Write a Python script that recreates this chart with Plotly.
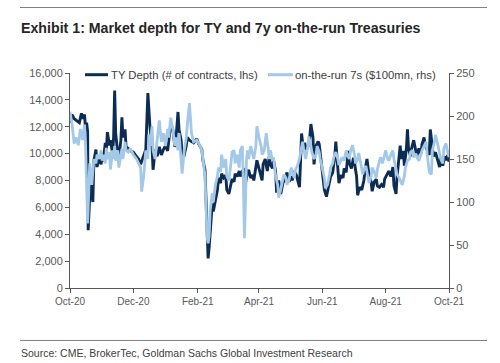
import pandas as pd
import plotly.graph_objects as go

BASE_DATE = "2020-10-01"

# TY Depth (# of contracts, lhs): day offset from base date, value
ty_days = [0, 2, 4, 6, 9, 11, 12, 14, 15, 16, 17, 17.5, 19.5, 21, 22, 23, 25, 26, 28, 30, 31, 32, 34, 35, 36, 38, 39, 41, 42, 43, 44, 46, 47, 49, 50, 51, 53, 54, 56, 58, 61, 64, 66, 68, 71, 73, 75, 76, 77, 79, 80, 82, 84, 86, 88, 90, 92, 94, 95, 97, 99, 101, 102, 104, 105, 107, 108, 110, 112, 113, 115, 117, 119, 122, 124, 127, 128, 130, 131, 132, 133, 134, 136, 137, 138, 140, 142, 143, 145, 146, 148, 150, 151, 153, 155, 156, 158, 159, 161, 163, 164, 166, 168, 169, 171, 172, 174,
           176, 177, 179, 180, 183, 185, 186, 188, 190, 192, 193, 195, 196, 198, 199, 201, 203, 205, 207, 209, 211, 213, 214, 216, 218, 221, 222, 223, 225, 226, 228, 230, 231, 232, 234, 235, 237, 239, 240, 242, 244, 245, 247, 249, 251, 253, 255, 256, 258, 259, 261, 263, 264, 266, 268, 269, 271, 273, 274, 276, 277, 279, 281, 283, 284, 286, 288, 290, 291, 293, 295, 296, 298, 300, 302, 303, 305, 307, 309, 311, 312, 314, 315, 316, 318, 319, 321, 322, 324, 325, 326, 328, 329, 331, 333, 334, 336, 338, 339, 341, 342, 344, 346, 347, 349, 350, 352, 354, 356, 357, 359, 361, 362, 364, 365]
ty_depth = [12300, 12900, 12600, 12500, 12300, 13000, 12600, 12900, 11800, 12300, 11600, 4300, 7700, 7000, 6400, 9500, 10300, 9000, 9700, 9200, 10100, 9400, 10800, 10200, 11600, 10600, 11000, 10000, 11200, 14700, 11500, 10000, 9600, 11000, 12700, 11200, 11800, 10500, 10400, 10200, 10100, 9800, 9600, 9200, 9800, 10300, 14500, 13000, 12000, 10500, 8800, 10300, 9800, 10500, 9900, 10300, 10600, 10200, 10800, 12200, 11800, 10500, 11000, 13100, 11800, 11000, 10000, 9900, 10600, 11200, 11000, 10900, 10800, 11100, 10700, 10300, 9500, 8800, 6000, 3000, 2200, 3000, 5600, 6300, 5700, 6500, 7300, 8200, 7800, 8500, 8200, 8400, 7300, 7000, 7600, 8100, 7900, 8500, 8300, 8700, 8300, 8700, 8800, 7800, 8600, 8800, 8200,
            8400, 8000, 8900, 9500, 8600, 8000, 9200, 9600, 8700, 9800, 9200, 8900, 9500, 8700, 7100, 8000, 7000, 7800, 8100, 8600, 7900, 8300, 8000, 8700, 8400, 7500, 9400, 11500, 10200, 10800, 10300, 10700, 11300, 12200, 11200, 9200, 10600, 10900, 10700, 9400, 8100, 7300, 6800, 7500, 8300, 8600, 9800, 10900, 9200, 7800, 8400, 8200, 8900, 8600, 10200, 9300, 8900, 9700, 9300, 8300, 6900, 7500, 7300, 8000, 8700, 9600, 8400, 7900, 7200, 7900, 8100, 7600, 7500, 7700, 7500, 8100, 8400, 8700, 8300, 9000, 7600, 7000, 8300, 9200, 10600, 9600, 10200, 9100, 10400, 11800, 10400, 9800, 10400, 11000, 10200, 9800, 10400, 10000, 10700, 11200, 10600, 10300, 9900, 11800, 10200, 9800, 10100, 9500, 9000, 9700, 9100, 9800, 9500, 9900, 9400]

# on-the-run 7s ($100mn, rhs): day offset from base date, value
otr_days = [0, 2, 4, 6, 8, 10, 12, 14, 15, 16, 17, 18, 19, 20, 21, 22, 23, 25, 26, 28, 30, 31, 32, 34, 35, 36, 38, 39, 41, 42, 43, 44, 46, 47, 49, 50, 51, 53, 54, 56, 58, 61, 64, 66, 68, 69, 71, 73, 75, 76, 77, 79, 80, 82, 84, 86, 88, 90, 92, 94, 95, 97, 99, 101, 102, 104, 105, 107, 108, 110, 112, 113, 115, 117, 119, 122, 124, 127, 128, 130, 131, 132, 133, 134, 135, 136, 137, 138, 140, 142, 143, 145, 146, 148, 150, 151, 153, 155, 156, 158, 159, 161, 163, 164, 166, 167, 168, 169, 170, 171, 172, 174,
            177, 179, 180, 182, 184, 185, 187, 189, 192, 193, 195, 196, 198, 200, 201, 203, 204, 206, 208, 209, 211, 213, 214, 216, 217, 219, 221, 222, 224, 225, 227, 229, 230, 232, 233, 235, 237, 238, 240, 241, 243, 245, 246, 248, 250, 251, 253, 254, 256, 258, 259, 261, 262, 264, 266, 267, 269, 270, 272, 274, 275, 277, 278, 280, 282, 283, 285, 286, 288, 290, 291, 293, 295, 296, 298, 299, 301, 303, 304, 306, 307, 309, 311, 312, 314, 315, 317, 319, 320, 322, 323, 325, 327, 328, 330, 331, 333, 335, 336, 338, 339, 341, 343, 344, 346, 348, 349, 351, 352, 354, 356, 357, 359, 360, 362, 364, 365]
otr_depth = [205, 190, 168, 175, 166, 185, 172, 190, 165, 125, 75, 110, 145, 130, 120, 135, 150, 145, 155, 150, 160, 148, 155, 145, 163, 150, 158, 138, 160, 150, 165, 148, 160, 140, 155, 162, 150, 170, 160, 158, 162, 155, 150, 145, 140, 112, 130, 160, 150, 178, 165, 188, 160, 150, 170, 195, 170, 180, 165, 185, 175, 198, 185, 165, 175, 160, 180, 150, 133, 160, 175, 190, 215, 180, 170, 172, 168, 160, 148, 130, 95, 60, 52, 60, 90, 100, 110, 100, 120, 130, 140, 135, 155, 140, 150, 130, 125, 145, 158, 160, 145, 155, 140, 160, 165, 120, 58, 100, 150, 160, 150, 165,
             150, 165, 188, 175, 165, 155, 160, 180, 150, 160, 148, 152, 130, 120, 105, 115, 120, 132, 128, 120, 126, 140, 135, 128, 137, 142, 150, 158, 170, 162, 150, 165, 176, 165, 158, 150, 155, 165, 158, 150, 140, 128, 116, 120, 132, 140, 145, 152, 158, 150, 143, 148, 152, 148, 160, 155, 150, 158, 166, 155, 145, 150, 157, 145, 132, 138, 142, 135, 122, 130, 140, 135, 128, 138, 150, 152, 145, 155, 160, 150, 148, 155, 160, 150, 140, 132, 128, 122, 120, 130, 140, 148, 150, 158, 160, 152, 156, 150, 148, 155, 160, 165, 170, 155, 135, 132, 160, 170, 178, 168, 158, 150, 145, 162, 168, 155, 152]

# axis ticks
lhs_ticks = [0, 2000, 4000, 6000, 8000, 10000, 12000, 14000, 16000]
rhs_ticks = [0, 50, 100, 150, 200, 250]

TITLE = "Exhibit 1: Market depth for TY and 7y on-the-run Treasuries"
SOURCE = "Source: CME, BrokerTec, Goldman Sachs Global Investment Research"
TY_NAME = "TY Depth (# of contracts, lhs)"
OTR_NAME = "on-the-run 7s ($100mn, rhs)"

DARK = "#0d2c54"
LIGHT = "#a4c8e8"
AXIS = "#595959"
TEXT = "#595959"

base = pd.Timestamp(BASE_DATE)
ty_x = [base + pd.Timedelta(days=d) for d in ty_days]
otr_x = [base + pd.Timedelta(days=d) for d in otr_days]

W, H = 500, 363
L, R, T, B = 70, 449, 73.3, 287.7


def px(x):
    return (x - L) / (R - L)


def py(y):
    return (B - y) / (B - T)


fig = go.Figure()
fig.add_trace(go.Scatter(x=ty_x, y=ty_depth, mode="lines", name=TY_NAME,
                         line=dict(color=DARK, width=2.9), yaxis="y"))
fig.add_trace(go.Scatter(x=otr_x, y=otr_depth, mode="lines", name=OTR_NAME,
                         line=dict(color=LIGHT, width=2.8), yaxis="y2"))

fig.update_layout(
    width=W, height=H,
    margin=dict(l=L, r=W - R, t=T, b=H - B, pad=0),
    paper_bgcolor="white", plot_bgcolor="white",
    showlegend=False,
    font=dict(family="Liberation Sans, Arial, sans-serif", size=11, color=TEXT),
    xaxis=dict(
        type="date", range=["2020-10-01", "2021-10-01"],
        tick0="2020-10-01", dtick="M2", tickformat="%b-%y",
        showgrid=False, zeroline=False,
        showline=True, linecolor=AXIS, linewidth=1,
        ticks="outside", ticklen=4, tickcolor=AXIS,
        tickfont=dict(size=10, color=TEXT),
    ),
    yaxis=dict(
        range=[0, 16000], tickvals=lhs_ticks, tickformat=",",
        showgrid=False, zeroline=False,
        showline=True, linecolor=AXIS, linewidth=1,
        ticks="outside", ticklen=4, tickcolor=AXIS,
        tickfont=dict(size=11, color=TEXT),
    ),
    yaxis2=dict(
        range=[0, 250], tickvals=rhs_ticks, overlaying="y", side="right",
        showgrid=False, zeroline=False,
        showline=True, linecolor=AXIS, linewidth=1,
        ticks="outside", ticklen=4, tickcolor=AXIS,
        tickfont=dict(size=11, color=TEXT),
    ),
)

# horizontal rules
for yy in (8, 340):
    fig.add_shape(type="line", xref="paper", yref="paper", layer="above",
                  x0=px(20), x1=px(487), y0=py(yy), y1=py(yy),
                  line=dict(color="#7f7f7f", width=1))

# title and source
fig.add_annotation(text=f"<b>{TITLE}</b>", xref="paper", yref="paper",
                   x=px(19), y=py(28), xanchor="left", yanchor="middle",
                   showarrow=False,
                   font=dict(family="Liberation Sans, Arial, sans-serif", size=14.2, color="#262626"))
fig.add_annotation(text=SOURCE, xref="paper", yref="paper",
                   x=px(19), y=py(353), xanchor="left", yanchor="middle",
                   showarrow=False,
                   font=dict(family="Liberation Sans, Arial, sans-serif", size=10.5, color="#404040"))

# legend (manual)
fig.add_shape(type="line", xref="paper", yref="paper",
              x0=px(85), x1=px(108), y0=py(75), y1=py(75),
              line=dict(color=DARK, width=3))
fig.add_annotation(text=TY_NAME, xref="paper", yref="paper",
                   x=px(109), y=py(75), xanchor="left", yanchor="middle",
                   showarrow=False, font=dict(size=11.3, color="#404040"))
fig.add_shape(type="line", xref="paper", yref="paper",
              x0=px(268), x1=px(293), y0=py(75), y1=py(75),
              line=dict(color=LIGHT, width=3))
fig.add_annotation(text=OTR_NAME, xref="paper", yref="paper",
                   x=px(293), y=py(75), xanchor="left", yanchor="middle",
                   showarrow=False, font=dict(size=11.3, color="#404040"))

fig.write_html("out.html", config={"displayModeBar": False},
               post_script="document.body.style.margin='0';document.body.style.overflow='hidden';")
